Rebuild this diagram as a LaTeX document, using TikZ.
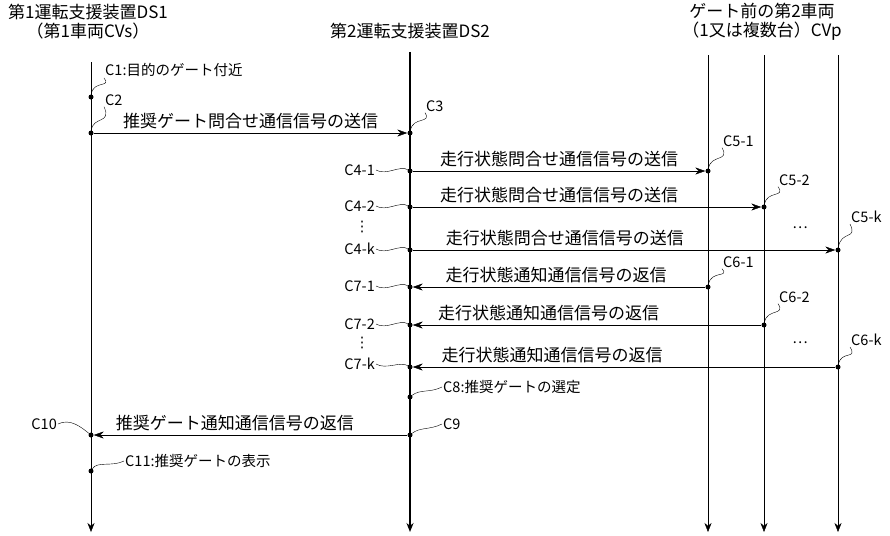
\documentclass[tikz,border=0pt]{standalone}
\usepackage{fontspec}
\setmainfont{Noto Sans CJK JP}
\newfontfamily\symfont{DejaVu Sans}
\usetikzlibrary{arrows.meta,positioning}

\tikzset{
  lifeline/.style={thin,-{Stealth[length=9pt,width=7pt]}},
  msg/.style={thin,-{Stealth[length=10pt,width=7pt]}},
  dot/.style={circle,fill=black,inner sep=0pt,minimum size=5pt},
  lbl/.style={font=\fontsize{14.5}{16}\selectfont,inner sep=1pt},
  txt/.style={font=\fontsize{17}{19}\selectfont,inner sep=1pt},
  leader/.style={thin}
}

\begin{document}
\begin{tikzpicture}[x=1pt,y=-1pt]
\useasboundingbox (0,0) rectangle (890,535);

% headers
\node (ds1) [txt, align=center] at (88,22) {第1運転支援装置DS1\\（第1車両CVs）};
\node (ds2) [txt] at (410,31) {第2運転支援装置DS2};
\node (cvp) [txt, align=center] at (762,22) {ゲート前の第2車両\\（1又は複数台）CVp};

% lifelines
\coordinate (l1t) at (91,62);   \coordinate (l1b) at (91,532);
\coordinate (l2t) at (410,52);  \coordinate (l2b) at (410,532);
\coordinate (l3t) at (708,55);  \coordinate (l3b) at (708,532);
\coordinate (l4t) at (764,55);  \coordinate (l4b) at (764,532);
\coordinate (l5t) at (838,55);  \coordinate (l5b) at (838,532);
\draw [lifeline] (l1t) -- (l1b);
\draw [lifeline, line width=1.4pt] (l2t) -- (l2b);
\draw [lifeline] (l3t) -- (l3b);
\draw [lifeline] (l4t) -- (l4b);
\draw [lifeline] (l5t) -- (l5b);

% events
\node (p1) [dot] at (91,97) {};
\node (p2) [dot] at (91,133) {};
\node (p3) [dot] at (410,133) {};
\node (q1) [dot] at (410,171) {};
\node (r1) [dot] at (708,171) {};
\node (q2) [dot] at (410,207) {};
\node (r2) [dot] at (764,207) {};
\node (qk) [dot] at (410,250) {};
\node (rk) [dot] at (838,250) {};
\node (s1) [dot] at (708,287) {};
\node (t1) [dot] at (410,287) {};
\node (s2) [dot] at (764,325) {};
\node (t2) [dot] at (410,325) {};
\node (sk) [dot] at (838,367) {};
\node (tk) [dot] at (410,367) {};
\node (p8) [dot] at (410,397) {};
\node (p9) [dot] at (410,435) {};
\node (p10) [dot] at (91,435) {};
\node (p11) [dot] at (91,471) {};

% labels
\node (c1) [lbl, anchor=west] at (104,70) {C1:目的のゲート付近};
\node (c2) [lbl, anchor=west] at (104,100) {C2};
\node (c3) [lbl, anchor=west] at (425,106) {C3};
\node (c41) [lbl, anchor=east] at (376,170) {C4-1};
\node (c42) [lbl, anchor=east] at (376,206) {C4-2};
\node (c4k) [lbl, anchor=east] at (376,249) {C4-k};
\node (c51) [lbl, anchor=west] at (722,141) {C5-1};
\node (c52) [lbl, anchor=west] at (778,180) {C5-2};
\node (c5k) [lbl, anchor=west] at (850,217) {C5-k};
\node (c61) [lbl, anchor=west] at (722,262) {C6-1};
\node (c62) [lbl, anchor=west] at (778,297) {C6-2};
\node (c6k) [lbl, anchor=west] at (850,340) {C6-k};
\node (c71) [lbl, anchor=east] at (376,286) {C7-1};
\node (c72) [lbl, anchor=east] at (376,324) {C7-2};
\node (c7k) [lbl, anchor=east] at (376,364) {C7-k};
\node (c8) [lbl, anchor=west] at (442,387) {C8:推奨ゲートの選定};
\node (c9) [lbl, anchor=west] at (442,424) {C9};
\node (c10) [lbl, anchor=east] at (58,424) {C10};
\node (c11) [lbl, anchor=west] at (124,461) {C11:推奨ゲートの表示};
\node (v4) [lbl] at (362,227) {\symfont ⋮};
\node (v7) [lbl] at (362,343) {\symfont ⋮};
\node (h5) [lbl] at (800,228) {…};
\node (h6) [lbl] at (800,343) {…};

% leaders
\draw [leader] (p1) .. controls (93,80) and (112,88) .. (c1.south west);
\draw [leader] (p2) .. controls (93,116) and (112,124) .. (c2.south west);
\draw [leader] (p3) .. controls (413,116) and (432,124) .. (c3.south west);
\draw [leader] (r1) .. controls (711,154) and (730,162) .. (c51.south west);
\draw [leader] (r2) .. controls (767,190) and (786,198) .. (c52.south west);
\draw [leader] (rk) .. controls (841,230) and (858,240) .. (c5k.south west);
\draw [leader] (s1) .. controls (711,270) and (730,278) .. (c61.south west);
\draw [leader] (s2) .. controls (767,308) and (786,316) .. (c62.south west);
\draw [leader] (sk) .. controls (841,350) and (858,360) .. (c6k.south west);
\foreach \a/\b in {c41/q1, c42/q2, c4k/qk, c71/t1, c72/t2, c7k/tk}
  \draw [leader] (\a.east) .. controls +(10,6) and +(-10,-6) .. (\b);
\draw [leader] (p8) .. controls +(10,-8) and +(-12,6) .. (c8.west);
\draw [leader] (p9) .. controls +(10,-8) and +(-12,6) .. (c9.west);
\draw [leader] (c10.east) .. controls +(12,-6) and +(-10,-8) .. (p10);
\draw [leader] (p11) .. controls +(6,-10) and +(-12,6) .. (c11.west);

% messages
\draw [msg] (p2) -- node[txt, above=3pt] {推奨ゲート問合せ通信信号の送信} (p3);
\draw [msg] (q1) -- node[txt, above=3pt, pos=0.5] {走行状態問合せ通信信号の送信} (r1);
\draw [msg] (q2) -- node[txt, above=3pt, pos=0.42] {走行状態問合せ通信信号の送信} (r2);
\draw [msg] (qk) -- node[txt, above=3pt, pos=0.36] {走行状態問合せ通信信号の送信} (rk);
\draw [msg] (s1) -- node[txt, above=3pt, pos=0.51] {走行状態通知通信信号の返信} (t1);
\draw [msg] (s2) -- node[txt, above=3pt, pos=0.61] {走行状態通知通信信号の返信} (t2);
\draw [msg] (sk) -- node[txt, above=3pt, pos=0.67] {走行状態通知通信信号の返信} (tk);
\draw [msg] (p9) -- node[txt, above=3pt, pos=0.55] {推奨ゲート通知通信信号の返信} (p10);

\end{tikzpicture}
\end{document}
